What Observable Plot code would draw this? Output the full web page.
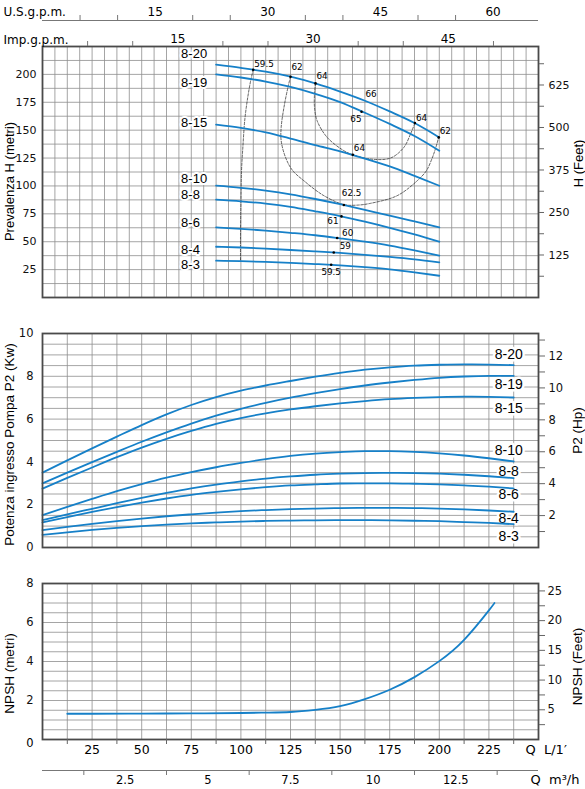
<!DOCTYPE html>
<html>
<head>
<meta charset="utf-8">
<script src="https://cdn.jsdelivr.net/npm/d3@7"></script>
<script src="https://cdn.jsdelivr.net/npm/@observablehq/plot@0.6"></script>
<style>
html, body { margin: 0; padding: 0; background: #fff; overflow: hidden; }
#wrap { position: relative; width: 585px; height: 789px; }
#wrap > div { position: absolute; left: 0; }
</style>
</head>
<body>
<div id="wrap"></div>
<script>
// ---------------- DATA ----------------
const models = ["8-20", "8-19", "8-15", "8-10", "8-8", "8-6", "8-4", "8-3"];

// Head curves (Q in L/min, H in metres)
const flowH = [87.5, 100, 112.5, 125, 137.5, 150, 162.5, 175, 187.5, 200];
const head_8_20 = [208.7, 205.8, 202.4, 197.9, 191.9, 184.6, 176.4, 166.8, 156.4, 143.5];
const head_8_19 = [200.0, 197.2, 193.6, 188.8, 182.6, 175.2, 165.6, 155.6, 144.8, 131.6];
const head_8_15 = [154.9, 152.0, 148.0, 142.5, 136.5, 131.0, 124.5, 117.5, 109.0, 100.2];
const head_8_10 = [100.2, 98.3, 95.8, 92.5, 88.3, 83.6, 78.5, 73.5, 68.2, 62.8];
const head_8_8  = [87.7, 86.2, 84.2, 81.3, 77.3, 73.0, 68.0, 62.5, 56.5, 50.0];
const head_8_6  = [62.8, 61.6, 60.0, 58.0, 55.8, 53.0, 50.0, 46.5, 42.2, 37.5];
const head_8_4  = [45.5, 44.8, 43.8, 42.6, 41.3, 40.0, 38.3, 36.4, 34.2, 31.5];
const head_8_3  = [33.0, 32.6, 31.9, 31.0, 30.0, 28.8, 27.2, 25.3, 22.6, 19.5];
const heads = [head_8_20, head_8_19, head_8_15, head_8_10, head_8_8, head_8_6, head_8_4, head_8_3];

// Iso-efficiency lines
const iso595Q = [106.2, 105, 103.5, 102, 101, 100.3, 100, 99.8, 99.8];
const iso595H = [204.2, 195, 180, 160, 135, 113, 85, 55, 32.6];
const iso62Q = [125, 123.7, 121.7, 120.3, 120.3, 122.5, 126, 131.7, 141.8, 151.9, 158.6, 165.3, 178.8, 188.9, 193.5, 196.2, 198, 199.7];
const iso62H = [197.9, 188.3, 170.4, 152.5, 140.5, 125.6, 114, 104.7, 91.3, 83.3, 82.8, 84.4, 91.3, 104.7, 113.7, 124, 133, 143.5];
const iso64Q = [137.6, 137.1, 137.1, 138.4, 143.5, 151.9, 156.4, 165.3, 175.4, 182.1, 185.5, 187.7];
const iso64H = [191.9, 182.4, 170.4, 158.5, 143.5, 131.6, 128, 124.1, 125, 134.5, 146.6, 156.4];

// Efficiency marks
const effQ = [106.2, 125, 137.6, 162.8, 160.8, 187.7, 199.7, 156.4, 151.9, 150.7, 148.5, 146.8, 145.5];
const effH = [204.2, 197.9, 191.9, 176.4, 166.5, 156.4, 143.5, 128, 82.9, 72.7, 53.3, 40.4, 29.4];
const effText = ["59.5", "62", "64", "66", "65", "64", "62", "64", "62.5", "61", "60", "59", "59.5"];
const effDot = [true, true, true, false, true, true, true, true, true, true, true, true, true];

// Power curves (Q in L/min, P2 in kW)
const flowP = [0, 12.5, 25, 37.5, 50, 62.5, 75, 87.5, 100, 112.5, 125, 137.5, 150, 162.5, 175, 187.5, 200, 212.5, 225, 237.5];
const pow_8_20 = [3.50, 4.07, 4.63, 5.18, 5.72, 6.22, 6.66, 7.03, 7.33, 7.57, 7.78, 7.98, 8.16, 8.31, 8.42, 8.50, 8.54, 8.56, 8.55, 8.52];
const pow_8_19 = [3.00, 3.50, 3.99, 4.47, 4.94, 5.38, 5.79, 6.16, 6.48, 6.76, 7.00, 7.21, 7.40, 7.57, 7.71, 7.83, 7.93, 7.99, 8.02, 8.02];
const pow_8_15 = [2.75, 3.25, 3.74, 4.22, 4.67, 5.08, 5.45, 5.78, 6.05, 6.27, 6.45, 6.60, 6.73, 6.84, 6.93, 6.99, 7.03, 7.05, 7.04, 7.01];
const pow_8_10 = [1.51, 1.90, 2.27, 2.63, 2.96, 3.26, 3.52, 3.75, 3.95, 4.13, 4.28, 4.39, 4.46, 4.50, 4.50, 4.47, 4.40, 4.30, 4.17, 4.02];
const pow_8_8  = [1.28, 1.55, 1.81, 2.07, 2.32, 2.55, 2.76, 2.94, 3.09, 3.22, 3.32, 3.40, 3.45, 3.48, 3.49, 3.48, 3.45, 3.40, 3.33, 3.24];
const pow_8_6  = [1.17, 1.42, 1.66, 1.89, 2.10, 2.29, 2.46, 2.60, 2.72, 2.82, 2.90, 2.95, 2.99, 3.00, 3.00, 2.98, 2.95, 2.90, 2.84, 2.76];
const pow_8_4  = [0.81, 0.96, 1.10, 1.23, 1.35, 1.46, 1.55, 1.63, 1.70, 1.75, 1.79, 1.82, 1.84, 1.85, 1.85, 1.84, 1.82, 1.78, 1.73, 1.67];
const pow_8_3  = [0.59, 0.71, 0.82, 0.92, 1.00, 1.07, 1.13, 1.17, 1.21, 1.24, 1.26, 1.27, 1.28, 1.28, 1.27, 1.25, 1.23, 1.19, 1.15, 1.09];
const powers = [pow_8_20, pow_8_19, pow_8_15, pow_8_10, pow_8_8, pow_8_6, pow_8_4, pow_8_3];

// NPSH curve (Q in L/min, NPSH in metres)
const flowN = [12.5, 25, 50, 75, 100, 112.5, 125, 137.5, 150, 162.5, 175, 187.5, 200, 212.5, 225, 227.8];
const npshM = [1.32, 1.32, 1.33, 1.34, 1.36, 1.38, 1.41, 1.52, 1.71, 2.07, 2.55, 3.20, 4.02, 5.11, 6.62, 7.0];

// Tick labels
const hTicks = [25, 50, 75, 100, 125, 150, 175, 200];
const ftTicks = [62.5, 125, 187.5, 250, 312.5, 375, 437.5, 500, 562.5, 625, 687.5];
const kwTicks = [0, 2, 4, 6, 8, 10];
const hpTicks = [1, 2, 3, 4, 5, 6, 7, 8, 9, 10, 11, 12, 13];
const npshTicks = [2, 4, 6, 8];
const npshFtTicks = [2.5, 5, 7.5, 10, 12.5, 15, 17.5, 20, 22.5, 25];
const qLabels = [25, 50, 75, 100, 125, 150, 175, 200, 225];
const qMinor = [12.5, 37.5, 62.5, 87.5, 112.5, 137.5, 162.5, 187.5, 212.5, 237.5];
const usLabels = [15, 30, 45, 60];
const usMinor = [5, 10, 20, 25, 35, 40, 50, 55];
const impLabels = [15, 30, 45];
const impMinor = [5, 10, 20, 25, 35, 40, 50];
const m3Labels = [2.5, 5, 7.5, 10, 12.5];
const m3Minor = [1.25, 3.75, 6.25, 8.75, 11.25, 13.75];

// ---------------- LAYOUT / STYLE ----------------
const FT = 0.3048, HP = 0.7457, USG = 3.78541, IMPG = 4.54609, M3H = 0.06;
const W = 585, ML = 42, MR = 47, QMAX = 250;
const GRID = "#8e8e8e", FRAME = "#4a4a4a", BLUE = "#1680c8", TICK = "#666", INK = "#111";
const DIN = "'DejaVu Sans', sans-serif";
const SANS = "'Liberation Sans', Arial, sans-serif";
const baseStyle = {background: "transparent", overflow: "visible", fontFamily: DIN, fontSize: "11px", color: INK};
const gridOpt = {stroke: GRID, strokeWidth: 0.8};
const hLabelDy = [-11, 8, -2, -6.5, -4.5, -5, 3, 4];
const pLabelDy = [-11, 9, 11.5, -11, -7, 6, 6.5, 12.4];
const effAnchor = ["start", "start", "start", "start", "end", "start", "start", "start", "start", "end", "start", "start", "middle"];
const effDx = [1, 1, 1, 0, 0, 1, 1, 1, -2, -3, 5, 6, 0];
const effDy = [-6, -10, -7, -6.5, 7.5, -5, -6, -6.5, -12, 5, -5, -6, 7];

const wrap = document.getElementById("wrap");
function place(svg, top) {
  const d = document.createElement("div");
  d.style.top = top + "px";
  d.appendChild(svg);
  wrap.appendChild(d);
}

// rows
const hRows = models.flatMap((m, i) => flowH.map((q, j) => ({model: m, Q: q, H: heads[i][j]})));
const pRows = models.flatMap((m, i) => flowP.map((q, j) => ({model: m, Q: q, P: powers[i][j]})));
const nRows = flowN.map((q, j) => ({Q: q, N: npshM[j]}));
const isoRows = [
  ...iso595Q.map((q, j) => ({id: "59.5", Q: q, H: iso595H[j]})),
  ...iso62Q.map((q, j) => ({id: "62", Q: q, H: iso62H[j]})),
  ...iso64Q.map((q, j) => ({id: "64", Q: q, H: iso64H[j]}))
];
const effRows = effQ.map((q, j) => ({Q: q, H: effH[j], t: effText[j], dot: effDot[j]}));

const titleOpt = {rotate: -90, textAnchor: "middle", fontFamily: SANS, fill: "#000"};

// ---------------- HEAD CHART ----------------
const headChart = Plot.plot({
  width: W, height: 310, marginTop: 46, marginBottom: 13, marginLeft: ML, marginRight: MR,
  style: baseStyle,
  x: {domain: [0, QMAX], axis: null},
  y: {domain: [0, 225]},
  marks: [
    Plot.ruleX(d3.range(6.25, QMAX, 6.25), gridOpt),
    Plot.ruleY(d3.range(12.5, 225, 12.5), gridOpt),
    ...models.map((m, i) => Plot.text([m], {
      x: flowH[0], y: heads[i][0], text: d => d, textAnchor: "start", dx: -35, dy: hLabelDy[i],
      fontFamily: SANS, fontSize: 13, fill: "#000", stroke: "white", strokeWidth: 4, paintOrder: "stroke"
    })),
    Plot.line(isoRows, {x: "Q", y: "H", z: "id", stroke: "#222", strokeWidth: 0.7, strokeDasharray: "2.5,1.6", curve: "catmull-rom"}),
    Plot.line(hRows, {x: "Q", y: "H", z: "model", stroke: BLUE, strokeWidth: 1.8, curve: "monotone-x"}),
    Plot.dot(effRows.filter(d => d.dot), {x: "Q", y: "H", r: 1.3, fill: "#000"}),
    ...effRows.map((d, j) => Plot.text([d], {
      x: "Q", y: "H", text: "t", textAnchor: effAnchor[j], dx: effDx[j], dy: effDy[j],
      fontSize: 8.8, fill: "#000"
    })),
    Plot.frame({stroke: FRAME, strokeWidth: 1.8}),
    Plot.axisY({anchor: "left", ticks: hTicks, tickSize: 0, tickPadding: 6, label: null, fontSize: 11}),
    Plot.axisY({anchor: "right", ticks: ftTicks.map(f => f * FT), tickSize: 5, tickPadding: 5, stroke: TICK, label: null, fontSize: 11,
      tickFormat: d => { const f = Math.round(d / FT * 10) / 10; return f % 125 === 0 ? String(f) : ""; }}),
    Plot.text(["Prevalenza H (metri)"], {...titleOpt, frameAnchor: "left", dx: -33, dy: 9.5, fontSize: 13}),
    Plot.text(["H (Feet)"], {...titleOpt, frameAnchor: "right", dx: 40, dy: -8.5, fontSize: 13})
  ]
});
place(headChart, 0);

// ---------------- US g.p.m. axis ----------------
const usAxis = Plot.plot({
  width: W, height: 21, marginTop: 15, marginBottom: 1, marginLeft: ML, marginRight: MR,
  style: baseStyle,
  x: {domain: [0, QMAX / USG], axis: null},
  y: {domain: [0, 1], axis: null},
  marks: [
    Plot.ruleY([0], {stroke: "#777", strokeWidth: 1.2}),
    Plot.tickX(usMinor, {x: d => d, stroke: "#777"}),
    Plot.text(usLabels, {x: d => d, text: d => String(d), frameAnchor: "top", dy: -8, fontSize: 12, fill: "#000"}),
    Plot.text(["U.S.g.p.m."], {frameAnchor: "top-left", dx: -39, dy: -8, textAnchor: "start", fontSize: 12, fill: "#000"})
  ]
});
place(usAxis, 0);

// ---------------- Imp g.p.m. axis ----------------
const impAxis = Plot.plot({
  width: W, height: 25, marginTop: 20, marginBottom: 0, marginLeft: ML, marginRight: MR,
  style: baseStyle,
  x: {domain: [0, QMAX / IMPG], axis: null},
  y: {domain: [0, 1], axis: null},
  marks: [
    Plot.tickX(impMinor, {x: d => d, stroke: "#777"}),
    Plot.text(impLabels, {x: d => d, text: d => String(d), frameAnchor: "top", dy: -7, fontSize: 12, fill: "#000"}),
    Plot.text(["Imp.g.p.m."], {frameAnchor: "top-left", dx: -39, dy: -6, textAnchor: "start", fontSize: 12, fill: "#000"})
  ]
});
place(impAxis, 21);

// ---------------- POWER CHART ----------------
const powChart = Plot.plot({
  width: W, height: 260, marginTop: 23, marginBottom: 23, marginLeft: ML, marginRight: MR,
  style: baseStyle,
  x: {domain: [0, QMAX], axis: null},
  y: {domain: [0, 10]},
  marks: [
    Plot.ruleX(d3.range(12.5, QMAX, 12.5), gridOpt),
    Plot.ruleY(d3.range(0.5, 10, 0.5), gridOpt),
    ...models.map((m, i) => Plot.text([m], {
      x: flowP[flowP.length - 1], y: powers[i][powers[i].length - 1], text: d => d, dx: -5, dy: pLabelDy[i],
      fontFamily: SANS, fontSize: 14, fill: "#000", stroke: "white", strokeWidth: 5, paintOrder: "stroke"
    })),
    Plot.line(pRows, {x: "Q", y: "P", z: "model", stroke: BLUE, strokeWidth: 1.8, curve: "monotone-x"}),
    Plot.frame({stroke: FRAME, strokeWidth: 1.8}),
    Plot.axisY({anchor: "left", ticks: kwTicks, tickSize: 0, tickPadding: 9, label: null, fontSize: 11.5}),
    Plot.axisY({anchor: "right", ticks: hpTicks.map(h => h * HP), tickSize: 6, tickPadding: 4, stroke: TICK, label: null, fontSize: 11.5,
      tickFormat: d => { const h = Math.round(d / HP); return h % 2 === 0 ? String(h) : ""; }}),
    Plot.text(["Potenza ingresso Pompa P2 (Kw)"], {...titleOpt, frameAnchor: "left", dx: -33, dy: 4, fontSize: 13.5}),
    Plot.text(["P2 (Hp)"], {...titleOpt, frameAnchor: "right", dx: 39, dy: -10, fontSize: 13.5})
  ]
});
place(powChart, 310);

// ---------------- NPSH CHART ----------------
const npshChart = Plot.plot({
  width: W, height: 219, marginTop: 13, marginBottom: 50, marginLeft: ML, marginRight: MR,
  style: baseStyle,
  x: {domain: [0, QMAX]},
  y: {domain: [0, 8]},
  marks: [
    Plot.ruleX(d3.range(12.5, QMAX, 12.5), gridOpt),
    Plot.ruleY(d3.range(0.5, 8, 0.5), gridOpt),
    Plot.line(nRows, {x: "Q", y: "N", stroke: BLUE, strokeWidth: 1.8, curve: "natural"}),
    Plot.frame({stroke: FRAME, strokeWidth: 1.8}),
    Plot.axisY({anchor: "left", ticks: npshTicks, tickSize: 0, tickPadding: 9, label: null, fontSize: 11.5}),
    Plot.text(["0"], {frameAnchor: "bottom-left", dx: -9, dy: 7, textAnchor: "end", fontSize: 11.5, fill: "#000"}),
    Plot.axisY({anchor: "right", ticks: npshFtTicks.map(f => f * FT), tickSize: 6, tickPadding: 3, stroke: TICK, label: null, fontSize: 11.5,
      tickFormat: d => { const f = Math.round(d / FT * 10) / 10; return f % 5 === 0 ? String(f) : ""; }}),
    Plot.axisX({anchor: "bottom", ticks: qMinor, tickSize: 5, stroke: TICK, tickFormat: () => "", label: null}),
    Plot.text(qLabels, {x: d => d, text: d => String(d), frameAnchor: "bottom", dy: 14.5, fontSize: 12.5, fill: "#000"}),
    Plot.text(["Q  L/1\u2032"], {frameAnchor: "bottom-right", dx: -13, dy: 14.5, textAnchor: "start", fontSize: 13, fill: "#000"}),
    Plot.text(["NPSH (metri)"], {...titleOpt, frameAnchor: "left", dx: -33, dy: 12, fontSize: 13.5}),
    Plot.text(["NPSH (Feet)"], {...titleOpt, frameAnchor: "right", dx: 39, dy: 5, fontSize: 13.5})
  ]
});
place(npshChart, 570);

// ---------------- m3/h axis ----------------
const m3Axis = Plot.plot({
  width: W, height: 24, marginTop: 5, marginBottom: 14, marginLeft: ML, marginRight: MR,
  style: baseStyle,
  x: {domain: [0, QMAX * M3H], axis: null},
  y: {domain: [0, 1], axis: null},
  marks: [
    Plot.ruleY([1], {stroke: "#777", strokeWidth: 1.2}),
    Plot.tickX(m3Minor, {x: d => d, stroke: "#777"}),
    Plot.text(m3Labels, {x: d => d, text: d => String(d), frameAnchor: "bottom", dy: 8.5, fontSize: 11.5, fill: "#000"}),
    Plot.text(["Q  m\u00b3/h"], {frameAnchor: "bottom-right", dx: -8, dy: 8.5, textAnchor: "start", fontSize: 13, fill: "#000"})
  ]
});
place(m3Axis, 765);
</script>
</body>
</html>
